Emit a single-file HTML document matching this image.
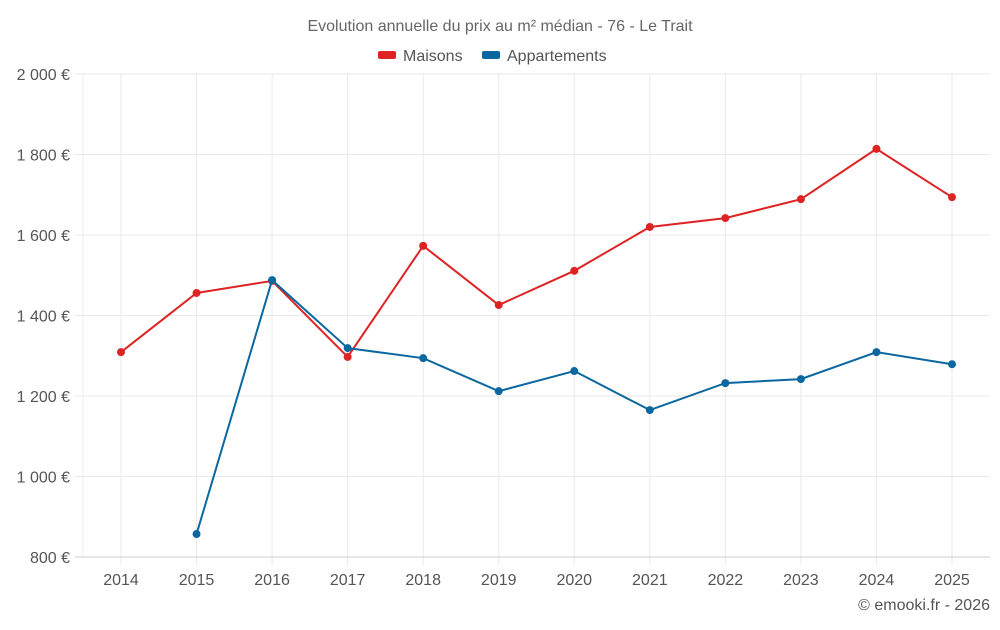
<!DOCTYPE html>
<html><head><meta charset="utf-8"><style>
body{margin:0;background:#fff;width:1000px;height:625px;overflow:hidden;font-family:"Liberation Sans",sans-serif}
</style></head><body>
<svg id="chart" width="1000" height="625" font-family="Liberation Sans, sans-serif">
<text x="500" y="31" text-anchor="middle" font-size="16" fill="#666">Evolution annuelle du prix au m² médian - 76 - Le Trait</text>
<g>
<g><rect x="378" y="51" width="18" height="8" rx="2" fill="#dd2323"/><text x="403" y="61" font-size="16" fill="#555">Maisons</text></g>
<g><rect x="482" y="51" width="18" height="8" rx="2" fill="#0b67a0"/><text x="507" y="61" font-size="16" fill="#555">Appartements</text></g>
</g>
<g id="grid"></g><g id="axes"></g><g id="series"></g>
<text x="990" y="610" text-anchor="end" font-size="16" fill="#555">© emooki.fr - 2026</text>
</svg>
<script>
const years=[2014,2015,2016,2017,2018,2019,2020,2021,2022,2023,2024,2025];
const maisons=[1309,1456,1486,1297,1573,1426,1511,1620,1642,1689,1814,1694];
const appartements=[null,857,1488,1319,1294,1212,1262,1165,1232,1242,1309,1279];
const yTicks=[800,1000,1200,1400,1600,1800,2000];
const yTickLabels=["800 €","1 000 €","1 200 €","1 400 €","1 600 €","1 800 €","2 000 €"];
const L=83,R=990,T=74,B=557;
const x=i=>121+i*(952-121)/(years.length-1);
const y=v=>B-(v-800)/(2000-800)*(B-T);
const NS="http://www.w3.org/2000/svg";
function mk(tag,attrs,parent){const e=document.createElementNS(NS,tag);for(const k in attrs)e.setAttribute(k,attrs[k]);parent.appendChild(e);return e;}
const grid=document.getElementById('grid'),axes=document.getElementById('axes'),series=document.getElementById('series');
const le=mk('line',{x1:L,x2:L,y1:T,y2:B,stroke:'#eee'},grid);


years.forEach((yr,i)=>{
 const l=mk('line',{x1:x(i),x2:x(i),y1:T,y2:565,stroke:'#eaeaea'},grid);
 
 
 const tx=mk('text',{x:x(i),y:585,'text-anchor':'middle','font-size':16,fill:'#555'},axes);
 tx.textContent=yr;
 
 
});
yTicks.forEach((t,i)=>{
 const l=mk('line',{x1:75,x2:R,y1:y(t),y2:y(t),stroke:t===800?'#ccc':'#eaeaea'},grid);
 
 
 const tx=mk('text',{x:70,y:y(t)+6,'text-anchor':'end','font-size':16,fill:'#555'},axes);
 tx.textContent=yTickLabels[i];
 
 
});
function draw(vals,color,name){
 const g=mk('g',{},series);
 
 
 const pts=vals.map((v,i)=>v==null?null:[x(i),y(v)]).filter(p=>p);
 const pl=mk('polyline',{points:pts.map(p=>p.join(',')).join(' '),fill:'none',stroke:color,'stroke-width':2},g);
 
 
 pts.forEach(p=>{const c=mk('circle',{cx:p[0],cy:p[1],r:4,fill:color},g);
  
  });
}
draw(maisons,'#dd2323','maisons');
draw(appartements,'#0b67a0','appartements');
</script>
</body></html>
